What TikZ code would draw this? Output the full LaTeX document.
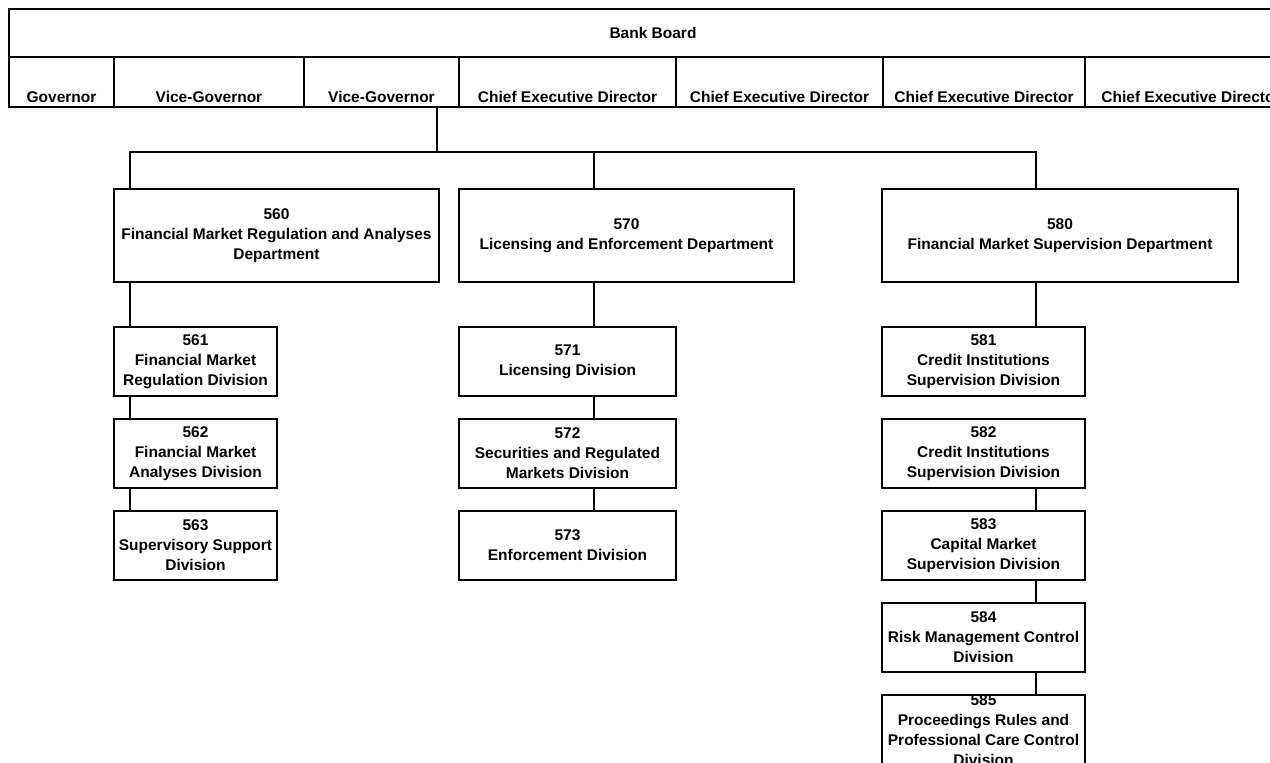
\documentclass[tikz,border=0pt]{standalone}
\usepackage{fontspec}
\setmainfont{Liberation Sans}
\usetikzlibrary{positioning,calc}

\begin{document}
\begin{tikzpicture}[x=1pt, y=-1pt, line width=2pt,
    orgbox/.style={draw, line width=2pt, outer sep=0pt, inner sep=0pt, align=center,
        font=\bfseries\fontsize{15.5}{20}\selectfont},
    dept/.style={orgbox, minimum height=93pt},
    divbox/.style={orgbox, minimum height=69pt},
    cell/.style={orgbox, minimum height=50pt},
    celltext/.style={anchor=base, yshift=5pt, inner sep=0pt, font=\bfseries\fontsize{15.5}{20}\selectfont}]
    \useasboundingbox (0,0) rectangle (1270,763);
    % bank board and its members
    \node[orgbox, minimum width=1288pt, minimum height=48pt] (board) at (653,33) {Bank Board};
    \foreach \l/\r/\who [count=\i] in {9/114/Governor, 114/304/Vice-Governor, 304/459/Vice-Governor,
        459/676/Chief Executive Director, 676/883/Chief Executive Director,
        883/1085/Chief Executive Director, 1085/1297/Chief Executive Director}{
        \node[cell, minimum width={(\r-\l)*1pt}] (m\i) at ({(\l+\r)/2},82) {};
        \node[celltext] at (m\i.south) {\who};
    }
    % departments
    \node[dept, minimum width=325pt] (d560) at (276.5,235.5) {560\\Financial Market Regulation and Analyses\\Department};
    \node[dept, minimum width=335pt] (d570) at (626.5,235.5) {570\\Licensing and Enforcement Department};
    \node[dept, minimum width=356pt] (d580) at (1060,235.5) {580\\Financial Market Supervision Department};
    % divisions
    \node[divbox, minimum width=163pt] (d561) at (195.5,361.5) {561\\Financial Market\\Regulation Division};
    \node[divbox, minimum width=163pt, below=23pt of d561] (d562) {562\\Financial Market\\Analyses Division};
    \node[divbox, minimum width=163pt, below=23pt of d562] (d563) {563\\Supervisory Support\\Division};
    \node[divbox, minimum width=217pt] (d571) at (567.5,361.5) {571\\Licensing Division};
    \node[divbox, minimum width=217pt, below=23pt of d571] (d572) {572\\Securities and Regulated\\Markets Division};
    \node[divbox, minimum width=217pt, below=23pt of d572] (d573) {573\\Enforcement Division};
    \node[divbox, minimum width=203pt] (d581) at (983.5,361.5) {581\\Credit Institutions\\Supervision Division};
    \node[divbox, minimum width=203pt, below=23pt of d581] (d582) {582\\Credit Institutions\\Supervision Division};
    \node[divbox, minimum width=203pt, below=23pt of d582] (d583) {583\\Capital Market\\Supervision Division};
    \node[divbox, minimum width=203pt, below=23pt of d583] (d584) {584\\Risk Management Control\\Division};
    \node[divbox, minimum width=203pt, below=23pt of d584] (d585) {585\\Proceedings Rules and\\Professional Care Control\\Division};
    % connectors
    \coordinate (top) at (437,152);
    \coordinate (sL) at (130,152);
    \coordinate (sM) at (594,152);
    \coordinate (sR) at (1036,152);
    \draw (m3.south -| top) -- (top);
    \draw (sL |- d560.north) -- (sL) -- (sR) -- (sR |- d580.north);
    \draw (sM) -- (sM |- d570.north);
    \foreach \a/\b in {d560/d561, d561/d562, d562/d563}
        \draw (sL |- \a.south) -- (sL |- \b.north);
    \foreach \a/\b in {d570/d571, d571/d572, d572/d573}
        \draw (sM |- \a.south) -- (sM |- \b.north);
    \foreach \a/\b in {d580/d581, d582/d583, d583/d584, d584/d585}
        \draw (sR |- \a.south) -- (sR |- \b.north);
\end{tikzpicture}
\end{document}
